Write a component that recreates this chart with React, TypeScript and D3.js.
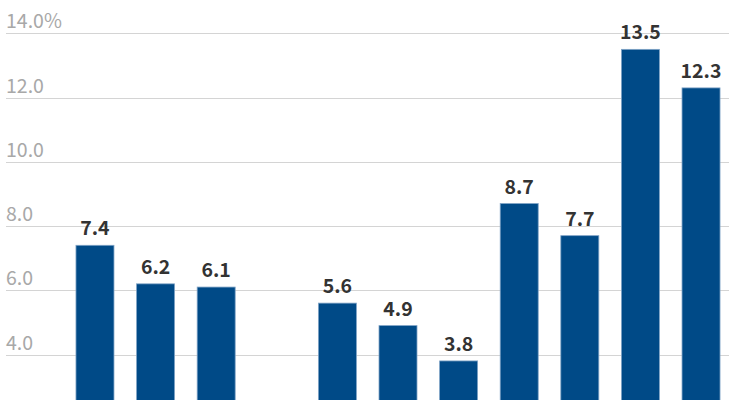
import React, { useEffect, useRef } from "react";
import * as d3 from "d3";

const categories = ["A", "B", "C", "D", "E", "F", "G", "H", "I", "J", "K"];
const values: (number | null)[] = [7.4, 6.2, 6.1, null, 5.6, 4.9, 3.8, 8.7, 7.7, 13.5, 12.3];
const yTicks = [2, 4, 6, 8, 10, 12, 14];

const W = 735;
const H = 400;

export default function App() {
  const ref = useRef<SVGSVGElement>(null);
  useEffect(() => {
    document.body.style.margin = "0";
    const svg = d3.select(ref.current);
    svg.selectAll("*").remove();
    const font = "'Noto Sans CJK JP', 'Noto Sans', sans-serif";

    const x = d3
      .scaleBand<string>()
      .domain(categories)
      .range([64.7, 731.3])
      .paddingInner(0.373)
      .paddingOuter(0.186);
    const y = d3.scaleLinear().domain([0, 14]).range([483, 33.3]);

    const grid = svg.append("g");
    yTicks.forEach((t) => {
      grid
        .append("line")
        .attr("x1", 6)
        .attr("x2", 729)
        .attr("y1", Math.round(y(t)) + 0.5)
        .attr("y2", Math.round(y(t)) + 0.5)
        .attr("stroke", "#d4d4d4")
        .attr("stroke-width", 1.2);
      grid
        .append("text")
        .attr("x", 6)
        .attr("y", y(t) - 5)
        .attr("font-family", font)
        .attr("font-size", 19.5)
        .attr("fill", "#a8a8a8")
        .text(t === 14 ? "14.0%" : t.toFixed(1));
    });

    const data = categories.map((c, i) => ({ c, v: values[i] })).filter((d) => d.v !== null) as {
      c: string;
      v: number;
    }[];

    svg
      .append("g")
      .selectAll("rect")
      .data(data)
      .join("rect")
      .attr("x", (d) => x(d.c)!)
      .attr("width", x.bandwidth())
      .attr("y", (d) => y(d.v))
      .attr("height", (d) => y(0) - y(d.v))
      .attr("fill", "#004a87")
      .attr("stroke", "#7fa3c6")
      .attr("stroke-width", 0.8);

    svg
      .append("g")
      .selectAll("text")
      .data(data)
      .join("text")
      .attr("x", (d) => x(d.c)! + x.bandwidth() / 2)
      .attr("y", (d) => y(d.v) - 10)
      .attr("text-anchor", "middle")
      .attr("font-family", font)
      .attr("font-weight", 600)
      .attr("font-size", 19.5)
      .attr("fill", "#333333")
      .text((d) => d.v.toFixed(1));
  }, []);

  return <svg ref={ref} width={W} height={H} style={{ display: "block" }} />;
}
